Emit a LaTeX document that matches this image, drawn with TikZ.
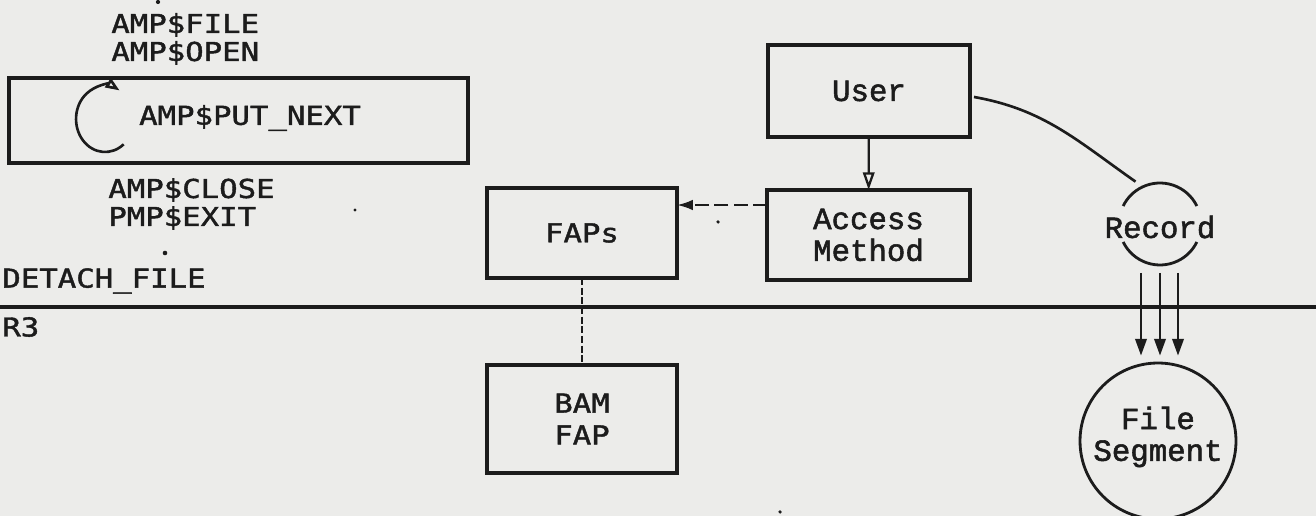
\documentclass[tikz,border=0pt]{standalone}
\usepackage{fontspec}
\newfontfamily\capf[FakeStretch=1.18,FakeBold=1.6]{DejaVu Sans Mono}
\newfontfamily\lowf[FakeBold=1.8]{Liberation Mono}
\usetikzlibrary{arrows.meta,calc}
\definecolor{bg}{RGB}{236,236,234}
\definecolor{ink}{RGB}{28,28,28}
\begin{document}
\begin{tikzpicture}[x=0.02cm,y=-0.02cm,
  capt/.style={font=\capf\fontsize{14.8}{18.1}\selectfont, text=ink, inner sep=0pt, align=left},
  lowt/.style={font=\lowf\fontsize{17.5}{18.1}\selectfont, text=ink, inner sep=0pt, align=center},
  box/.style={draw=ink, line width=2.1pt, inner sep=0pt, outer sep=0pt},
  conn/.style={draw=ink, line width=1.3pt},
  speck/.style={fill=ink}
]
\fill[bg] (0,0) rectangle (1316,516);
\useasboundingbox (0,0) rectangle (1316,516);

% left column
\node[capt, anchor=west] (ampfile) at (111,25) {AMP\$FILE};
\node[capt, anchor=west] (ampopen) at (111,53) {AMP\$OPEN};
\node[box, minimum width=9.18cm, minimum height=1.7cm] (loop) at (238.5,120.5) {};
\node[capt] (putnext) at (250,118) {AMP\$PUT\_NEXT};
\node[capt, anchor=west] (ampclose) at (108,190) {AMP\$CLOSE};
\node[capt, anchor=west] (pmpexit) at (108,218) {PMP\$EXIT};
\node[capt, anchor=west] (detach) at (2,281) {DETACH\_FILE};
\node[capt, anchor=west] (r3) at (2,327) {R3};

\coordinate (lc) at ($(loop.west)+(96,-1.5)$);
\draw[conn, line width=1.5pt, -{Triangle[open,length=8pt,width=6pt]}] ($(lc)+(-50:0.58cm and 0.66cm)$) arc[start angle=-50, end angle=-300, x radius=0.58cm, y radius=0.66cm];

% boxes
\node[box, lowt, minimum width=4.04cm, minimum height=1.84cm] (user) at (869,91) {User};
\node[box, lowt, minimum width=4.06cm, minimum height=1.8cm] (am) at (868.5,235) {Access\\Method};
\node[box, capt, align=center, minimum width=3.8cm, minimum height=1.8cm] (faps) at (582,233) {FAPs};
\node[box, capt, align=center, minimum width=3.8cm, minimum height=2.16cm] (bam) at (582,419) {BAM\\FAP};

% record
\node[circle, minimum size=1.64cm, inner sep=0pt, outer sep=4.5pt] (rec) at (1160,224) {};
\node[lowt] (rectext) at ($(rec.center)+(0,3)$) {Record};
\draw[conn, line width=1.6pt] ($(rec.center)+(26:0.82cm)$) arc[start angle=26, end angle=154, radius=0.82cm];
\draw[conn, line width=1.6pt] ($(rec.center)+(206:0.82cm)$) arc[start angle=206, end angle=334, radius=0.82cm];

% file segment
\node[circle, draw=ink, line width=1.6pt, minimum size=3.12cm, inner sep=0pt] (fs) at (1158,441) {};
\node[lowt] (fstext) at ($(fs.center)+(0,-4)$) {File\\Segment};

% separator line
\coordinate (hl) at (0,307);
\coordinate (hr) at (1316,307);
\draw[ink, line width=2.2pt] (hl) -- (hr);

% connectors
\draw[conn, -{Triangle[open,length=10pt,width=6.5pt]}] (user) -- (am);
\draw[conn, dash pattern=on 8pt off 3pt, -{Latex[length=9pt,width=6pt]}] ($(am.north west)+(0,15)$) -- ($(faps.north east)+(0,17)$);
\draw[conn, dash pattern=on 4pt off 1.5pt] (faps) -- (bam);
\draw[conn, line width=1.5pt] ($(user.east)+(4,6)$) to[out=-10, in=145] (rec.120);
\foreach \dx in {-19,0,18} {
  \draw[conn, -{Triangle[length=9.5pt,width=6.5pt]}] ($(rec.south)+(\dx,0)$) -- ($(rec.south |- fs.north)+(\dx,-6)$);
}

% specks
\fill[speck] (158,2) circle (1.2pt);
\fill[speck] (165,253) circle (1.3pt);
\fill[speck] (355,210) circle (0.9pt);
\fill[speck] (718,222) circle (1pt);
\fill[speck] (780,512) circle (1pt);
\end{tikzpicture}
\end{document}
